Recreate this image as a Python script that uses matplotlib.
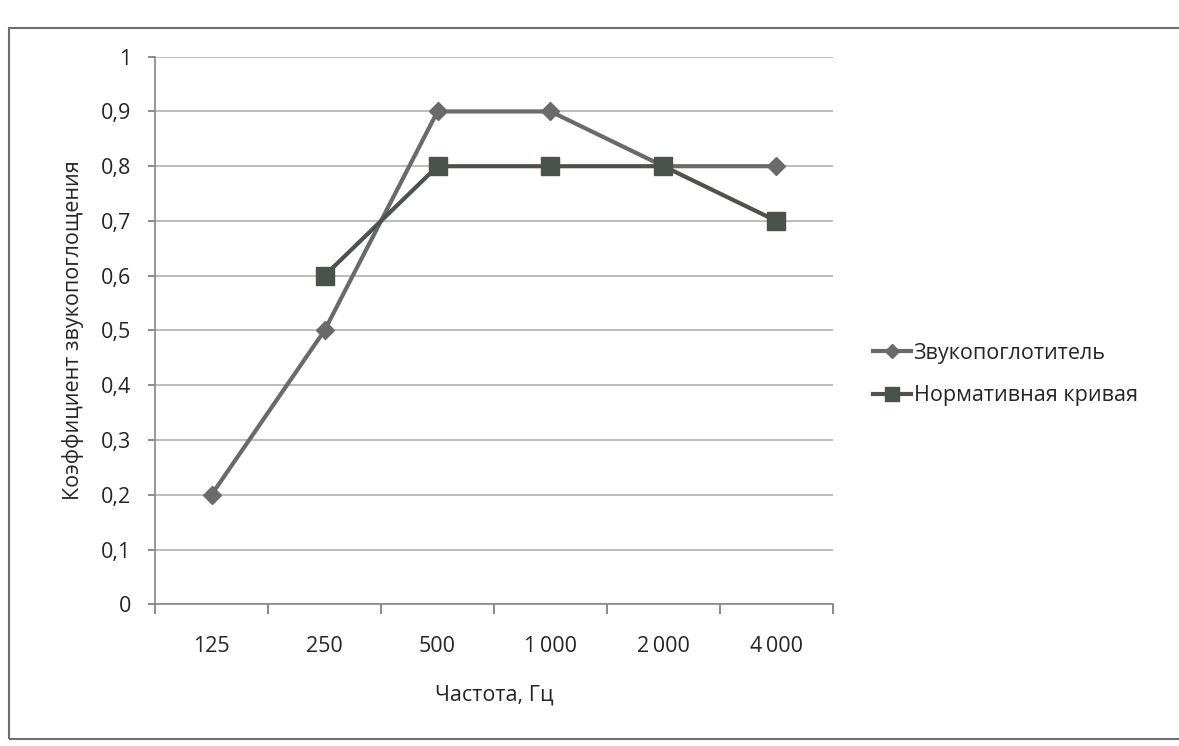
import matplotlib
matplotlib.use("Agg")
import matplotlib.pyplot as plt
from matplotlib.patches import Rectangle

plt.rcParams['font.family'] = ['Open Sans', 'DejaVu Sans']

categories = ["125", "250", "500", "1000", "2000", "4000"]
cat_labels = ["125", "250", "500", "1\u2009000", "2\u2009000", "4\u2009000"]
absorber = [0.2, 0.5, 0.9, 0.9, 0.8, 0.8]
norm_x = ["250", "500", "1000", "2000", "4000"]
norm = [0.6, 0.8, 0.8, 0.8, 0.7]
yticks = [0, 0.1, 0.2, 0.3, 0.4, 0.5, 0.6, 0.7, 0.8, 0.9, 1.0]
ytick_labels = ["0", "0,1", "0,2", "0,3", "0,4", "0,5", "0,6", "0,7", "0,8", "0,9", "1"]

FS = 15.5
TXT = "#252525"

fig = plt.figure(figsize=(11.79, 7.46), dpi=100)
fig.patch.set_facecolor("white")
# chart frame
fig.patches.append(Rectangle((0.008, 0.01), 1.2, 0.953, transform=fig.transFigure,
                             fill=False, edgecolor="#6e6e6e", linewidth=1.5))

ax = fig.add_axes([0.1315, 0.19, 0.575, 0.734])
xpos = {c: i for i, c in enumerate(categories)}

ax.plot([xpos[c] for c in categories], absorber, color="#6a6a6a", linewidth=3,
        marker="D", markersize=9, markerfacecolor="#6a6a6a", markeredgecolor="#6a6a6a",
        label="Звукопоглотитель", zorder=3)
ax.plot([xpos[c] for c in norm_x], norm, color="#4e524f", linewidth=3,
        marker="s", markersize=13, markerfacecolor="#4a524c", markeredgecolor="#4a524c",
        label="Нормативная кривая", zorder=4)

ax.set_xlim(-0.5, len(categories) - 0.5)
ax.set_ylim(0, 1)
ax.set_yticks(yticks)
ax.set_yticklabels(ytick_labels, fontsize=FS, color=TXT)
ax.yaxis.grid(True, color="#b0b0b0", linewidth=1.2)
ax.set_axisbelow(True)

ax.set_xticks([i - 0.5 for i in range(len(categories) + 1)], minor=False)
ax.set_xticklabels([])
ax.set_xticks(range(len(categories)), minor=True)
ax.set_xticklabels(cat_labels, minor=True, fontsize=FS, color=TXT)
ax.tick_params(axis="x", which="major", length=7, direction="out", color="#777777", width=1.2)
ax.tick_params(axis="x", which="minor", length=0, pad=23)
ax.tick_params(axis="y", length=5, direction="out", color="#777777", width=1.2, pad=12)

for s in ["top", "right"]:
    ax.spines[s].set_visible(False)
ax.spines["left"].set_color("#888888")
ax.spines["bottom"].set_color("#888888")
ax.spines["left"].set_linewidth(1.2)
ax.spines["bottom"].set_linewidth(1.2)

ax.set_xlabel("Частота, Гц", fontsize=FS, color=TXT, labelpad=20)
ax.set_ylabel("Коэффициент звукопоглощения", fontsize=FS, color=TXT, labelpad=12)

leg = ax.legend(loc="center left", bbox_to_anchor=(1.03, 0.42), frameon=False,
                fontsize=FS, handlelength=1.8, handletextpad=0.1, labelspacing=1.0,
                markerscale=0.8)
for t in leg.get_texts():
    t.set_color(TXT)

fig.savefig("out.png", dpi=100)
